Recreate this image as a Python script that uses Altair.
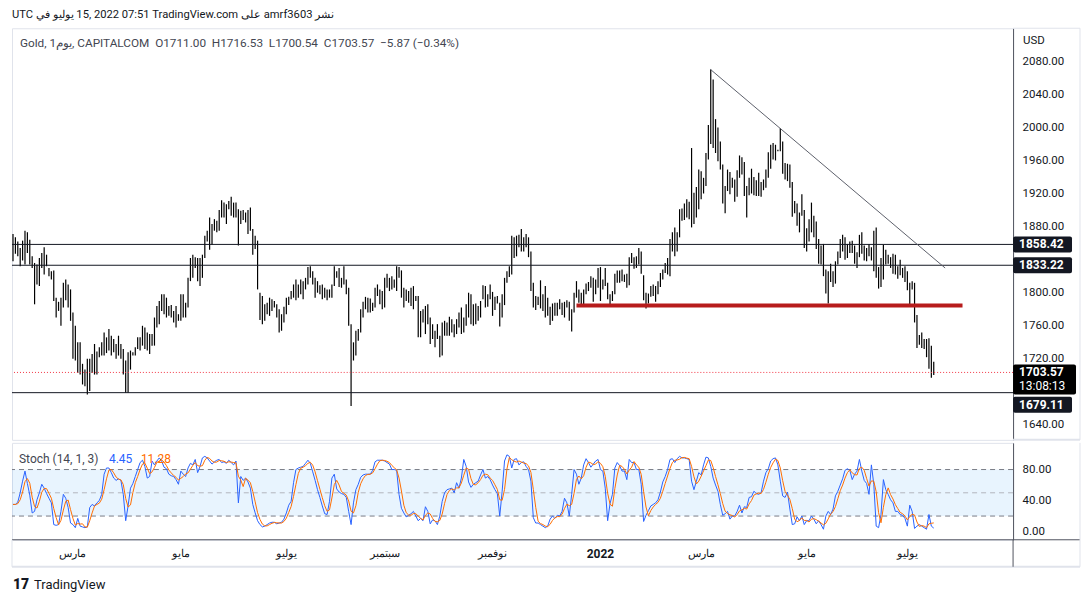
import altair as alt
import pandas as pd

# ---------------- data ----------------
bar_high = [
    1871, 1867, 1862, 1854, 1863, 1875, 1873, 1864, 1844, 1836,
    1834, 1842, 1848, 1855, 1846, 1830, 1826, 1827, 1794, 1789,
    1794, 1812, 1816, 1810, 1804, 1776, 1760, 1740, 1740, 1714,
    1707, 1720, 1720, 1726, 1738, 1729, 1734, 1740, 1752, 1746,
    1756, 1748, 1744, 1738, 1748, 1738, 1732, 1718, 1728, 1730,
    1728, 1734, 1746, 1746, 1760, 1758, 1752, 1750, 1750, 1770,
    1784, 1790, 1798, 1798, 1794, 1784, 1785, 1778, 1784, 1774,
    1798, 1798, 1788, 1818, 1842, 1846, 1843, 1842, 1842, 1846,
    1869, 1875, 1891, 1883, 1889, 1887, 1900, 1912, 1909, 1907,
    1911, 1916, 1909, 1909, 1901, 1899, 1900, 1897, 1900, 1903,
    1877, 1869, 1863, 1800, 1796, 1786, 1788, 1794, 1792, 1790,
    1786, 1780, 1774, 1783, 1794, 1795, 1802, 1810, 1816, 1810,
    1816, 1814, 1818, 1831, 1832, 1826, 1818, 1814, 1809, 1810,
    1806, 1804, 1804, 1810, 1832, 1826, 1830, 1818, 1832, 1816,
    1806, 1762, 1740, 1754, 1756, 1780, 1789, 1795, 1794, 1793,
    1788, 1806, 1810, 1804, 1802, 1818, 1823, 1818, 1820, 1816,
    1832, 1831, 1827, 1806, 1804, 1802, 1806, 1808, 1796, 1796,
    1778, 1780, 1784, 1786, 1770, 1762, 1754, 1762, 1748, 1764,
    1766, 1764, 1771, 1768, 1762, 1768, 1776, 1782, 1770, 1786,
    1800, 1798, 1786, 1787, 1784, 1790, 1809, 1808, 1798, 1810,
    1801, 1795, 1796, 1788, 1798, 1818, 1826, 1832, 1869, 1867,
    1869, 1870, 1877, 1867, 1871, 1867, 1850, 1812, 1796, 1795,
    1815, 1798, 1808, 1794, 1783, 1787, 1788, 1788, 1792, 1788,
    1789, 1791, 1789, 1780, 1800, 1814, 1804, 1800, 1804, 1811,
    1813, 1820, 1818, 1816, 1830, 1831, 1816, 1830, 1812, 1798,
    1802, 1823, 1827, 1827, 1828, 1822, 1823, 1843, 1848, 1843,
    1844, 1854, 1850, 1821, 1800, 1799, 1808, 1810, 1808, 1814,
    1824, 1828, 1836, 1842, 1865, 1873, 1879, 1873, 1901, 1902,
    1908, 1913, 1910, 1975, 1921, 1928, 1949, 1947, 1939, 1969,
    2003, 2070, 2058, 2010, 2000, 1983, 1955, 1929, 1949, 1946,
    1939, 1937, 1948, 1966, 1964, 1958, 1929, 1939, 1950, 1940,
    1936, 1945, 1934, 1937, 1949, 1970, 1979, 1981, 1979, 1973,
    1999, 1983, 1957, 1956, 1955, 1934, 1911, 1908, 1897, 1919,
    1900, 1878, 1889, 1909, 1893, 1886, 1865, 1857, 1859, 1828,
    1826, 1835, 1826, 1838, 1850, 1865, 1870, 1867, 1859, 1862,
    1863, 1857, 1849, 1870, 1873, 1857, 1854, 1859, 1855, 1875,
    1879, 1831, 1842, 1858, 1852, 1846, 1843, 1847, 1846, 1832,
    1840, 1830, 1832, 1826, 1812, 1814, 1812, 1773, 1749, 1752,
    1744, 1744, 1745, 1736, 1716.53,
]
bar_low = [
    1838, 1847, 1844, 1832, 1839, 1834, 1848, 1834, 1830, 1786,
    1810, 1808, 1830, 1822, 1832, 1820, 1816, 1790, 1770, 1778,
    1760, 1782, 1791, 1782, 1766, 1720, 1718, 1703, 1701, 1689,
    1687, 1677, 1681, 1703, 1701, 1701, 1722, 1724, 1724, 1727,
    1730, 1724, 1728, 1720, 1724, 1720, 1701, 1679, 1679, 1707,
    1724, 1724, 1732, 1730, 1736, 1732, 1730, 1726, 1736, 1736,
    1758, 1762, 1778, 1774, 1770, 1772, 1770, 1764, 1758, 1766,
    1766, 1770, 1770, 1782, 1814, 1818, 1830, 1814, 1808, 1818,
    1842, 1862, 1852, 1858, 1875, 1873, 1875, 1891, 1891, 1883,
    1901, 1893, 1891, 1891, 1857, 1883, 1888, 1885, 1871, 1875,
    1846, 1853, 1804, 1767, 1762, 1766, 1774, 1772, 1778, 1782,
    1770, 1752, 1754, 1764, 1774, 1785, 1792, 1794, 1791, 1794,
    1798, 1792, 1804, 1810, 1818, 1810, 1794, 1800, 1798, 1792,
    1794, 1791, 1794, 1794, 1808, 1818, 1807, 1806, 1810, 1798,
    1760, 1663, 1718, 1724, 1742, 1752, 1770, 1780, 1776, 1776,
    1778, 1782, 1796, 1786, 1780, 1782, 1806, 1802, 1804, 1806,
    1802, 1818, 1794, 1782, 1790, 1788, 1784, 1780, 1790, 1746,
    1746, 1764, 1750, 1762, 1738, 1744, 1734, 1744, 1722, 1724,
    1748, 1748, 1748, 1752, 1746, 1750, 1758, 1750, 1752, 1760,
    1770, 1762, 1760, 1762, 1766, 1770, 1792, 1782, 1783, 1792,
    1772, 1779, 1787, 1759, 1770, 1785, 1812, 1819, 1822, 1842,
    1844, 1855, 1850, 1850, 1855, 1843, 1802, 1782, 1779, 1785,
    1781, 1778, 1770, 1772, 1761, 1766, 1772, 1772, 1780, 1773,
    1770, 1782, 1766, 1753, 1776, 1794, 1788, 1784, 1785, 1798,
    1802, 1806, 1789, 1798, 1806, 1790, 1804, 1808, 1792, 1783,
    1790, 1798, 1812, 1812, 1814, 1813, 1806, 1809, 1836, 1829,
    1830, 1834, 1823, 1791, 1781, 1787, 1795, 1796, 1789, 1798,
    1807, 1816, 1824, 1822, 1820, 1850, 1844, 1850, 1867, 1887,
    1888, 1891, 1889, 1879, 1883, 1891, 1901, 1913, 1920, 1929,
    1961, 1980, 1975, 1969, 1959, 1949, 1908, 1896, 1923, 1919,
    1927, 1910, 1916, 1939, 1943, 1917, 1891, 1918, 1920, 1918,
    1917, 1917, 1916, 1924, 1927, 1939, 1950, 1961, 1960, 1971,
    1971, 1944, 1937, 1935, 1927, 1892, 1896, 1881, 1873, 1893,
    1854, 1850, 1862, 1873, 1867, 1853, 1835, 1834, 1820, 1799,
    1787, 1813, 1807, 1811, 1834, 1842, 1850, 1840, 1842, 1848,
    1848, 1835, 1830, 1843, 1847, 1839, 1838, 1844, 1839, 1826,
    1818, 1805, 1807, 1816, 1834, 1835, 1830, 1823, 1822, 1817,
    1821, 1818, 1813, 1803, 1784, 1804, 1764, 1733, 1737, 1733,
    1732, 1722, 1708, 1697, 1700.54,
]
stoch_k = [
    35, 35, 38, 50, 65, 78, 62, 47, 24, 26,
    41, 50, 61, 56, 49, 43, 37, 9, 8, 9,
    26, 48, 43, 31, 11, 9, 5, 17, 7, 6,
    5, 6, 31, 35, 33, 37, 40, 48, 74, 82,
    82, 76, 69, 66, 68, 66, 48, 14, 33, 56,
    62, 71, 80, 89, 92, 84, 69, 71, 91, 86,
    91, 95, 91, 83, 81, 74, 72, 71, 67, 61,
    78, 74, 71, 82, 88, 86, 93, 76, 84, 95,
    97, 95, 91, 87, 90, 92, 93, 89, 90, 88,
    92, 89, 86, 91, 37, 71, 66, 69, 64, 56,
    35, 24, 14, 9, 6, 7, 9, 11, 12, 12,
    10, 11, 12, 16, 24, 34, 39, 63, 80, 82,
    83, 84, 88, 92, 88, 77, 66, 54, 44, 33,
    23, 22, 39, 69, 74, 55, 51, 49, 48, 44,
    26, 9, 37, 54, 61, 70, 73, 74, 74, 74,
    79, 90, 92, 92, 92, 91, 89, 87, 80, 80,
    79, 48, 30, 24, 19, 21, 23, 26, 20, 14,
    17, 14, 32, 26, 10, 15, 14, 9, 20, 39,
    50, 54, 55, 56, 50, 63, 56, 69, 93, 84,
    64, 57, 61, 63, 65, 73, 80, 69, 71, 67,
    60, 54, 49, 20, 52, 91, 99, 97, 82, 93,
    94, 86, 89, 90, 84, 80, 65, 18, 11, 11,
    9, 7, 5, 7, 16, 20, 17, 21, 20, 26,
    43, 37, 20, 48, 80, 74, 61, 69, 86, 94,
    89, 83, 87, 91, 93, 80, 78, 56, 14, 36,
    48, 82, 89, 85, 78, 78, 67, 93, 89, 89,
    80, 80, 61, 13, 21, 27, 33, 35, 37, 41,
    51, 64, 71, 80, 93, 94, 89, 94, 97, 95,
    95, 94, 93, 65, 54, 65, 76, 73, 86, 96,
    95, 84, 69, 60, 52, 35, 21, 23, 26, 16,
    20, 20, 26, 34, 24, 32, 31, 44, 45, 52,
    49, 48, 50, 65, 76, 81, 91, 94, 95, 86,
    65, 46, 44, 51, 29, 9, 10, 19, 14, 20,
    9, 14, 14, 20, 16, 10, 14, 9, 3, 20,
    26, 22, 29, 46, 52, 60, 68, 79, 81, 79,
    67, 74, 78, 93, 78, 66, 62, 48, 86, 61,
    7, 5, 22, 67, 54, 48, 41, 37, 26, 26,
    22, 21, 17, 7, 34, 26, 4, 7, 9, 7,
    5, 3, 22, 7, 4.45,
]

month_pos = [25, 70, 114, 155, 200, 245, 287, 331, 373]
month_labels = ["مارس", "مايو", "يوليو", "سبتمبر", "نوفمبر", "2022", "مارس", "مايو", "يوليو"]
month_bold = [False, False, False, False, False, True, False, False, False]

level_prices = [1858.42, 1833.22, 1679.11]
level_texts = ["1858.42", "1833.22", "1679.11"]
support_price = 1784.5
support_from = 235
support_to = 396
trend_idx = [290.8, 388.75]
trend_price = [2070.3, 1829.9]
last_close = 1703.57
last_close_text = "1703.57"
countdown_text = "13:08:13"
price_ticks = [1640, 1720, 1760, 1800, 1880, 1920, 1960, 2000, 2040, 2080]
stoch_ticks = [0, 40, 80]
stoch_levels = [20, 50, 80]
stoch_level_colors = ["#787b86", "#b2b5be", "#787b86"]

header_text = "UTC في\u200e يوليو\u200e 15, 2022 07:51 TradingView.com على\u200e amrf3603 نشر\u200e"
legend_text = ("Gold, 1يوم\u200e, CAPITALCOM\u00a0\u00a0O1711.00\u00a0\u00a0H1716.53\u00a0\u00a0"
               "L1700.54\u00a0\u00a0C1703.57\u00a0\u00a0\u22125.87 (\u22120.34%)")
stoch_title = "Stoch (14, 1, 3)"
stoch_k_text = "4.45"
stoch_d_text = "11.28"

# ---------------- layout ----------------
W, H1, H2 = 1002, 412, 97
AX = 67          # width of the price-axis strip
FONT = "Roboto"
TXT = "#131722"
FRAME = "#e0e3eb"
AXLINE = "#50535e"

n = len(bar_high)
bars = pd.DataFrame({"i": list(range(n)), "hi": bar_high, "lo": bar_low})
stoch = pd.DataFrame({"i": list(range(len(stoch_k))), "k": stoch_k})

xs = alt.Scale(domain=[-0.417, 417.08], nice=False, zero=False)
ys = alt.Scale(domain=[1622.0, 2119.9], nice=False, zero=False)
ss = alt.Scale(domain=[-10.6, 114.4], nice=False, zero=False)

price_axis = alt.Axis(orient="right", values=price_ticks, format=".2f", ticks=False, grid=False,
                      domainColor=AXLINE, labelColor=TXT, labelFont=FONT, labelFontSize=11.5,
                      labelPadding=9, title=None)


def one(v=0):
    return pd.DataFrame({"d": [v]})


bars_layer = alt.Chart(bars).mark_rule(color="#000000", strokeWidth=1.2).encode(
    x=alt.X("i:Q", scale=xs, axis=None),
    y=alt.Y("lo:Q", scale=ys, axis=price_axis),
    y2="hi:Q",
)

lv = pd.DataFrame({"p": level_prices, "t": level_texts})
level_layer = alt.Chart(lv).mark_rule(color=TXT, strokeWidth=1).encode(y=alt.Y("p:Q", scale=ys))

sup = pd.DataFrame({"a": [support_from], "b": [support_to], "p": [support_price]})
support_layer = alt.Chart(sup).mark_rule(color="#b71c1c", strokeWidth=4).encode(
    x=alt.X("a:Q", scale=xs), x2="b:Q", y=alt.Y("p:Q", scale=ys))

tr = pd.DataFrame({"i": trend_idx, "p": trend_price})
trend_layer = alt.Chart(tr).mark_line(color="#5d606b", strokeWidth=1).encode(
    x=alt.X("i:Q", scale=xs), y=alt.Y("p:Q", scale=ys))

lc = pd.DataFrame({"p": [last_close], "t": [last_close_text], "c": [countdown_text]})
last_layer = alt.Chart(lc).mark_rule(color="#f23645", strokeWidth=1, strokeDash=[1, 2]).encode(
    y=alt.Y("p:Q", scale=ys))

# price tags on the axis
tags_top = lv.iloc[:2]
tags_low = lv.iloc[2:]
tag_box = alt.Chart(tags_top).mark_rect(color=TXT, yOffset=-8, y2Offset=8, cornerRadius=2).encode(
    x=alt.value(W), x2=alt.value(W + 59), y=alt.Y("p:Q", scale=ys), y2="p:Q")
tag_txt = alt.Chart(tags_top).mark_text(align="left", baseline="middle", color="white", font=FONT,
                                        fontSize=12, fontWeight="bold").encode(
    x=alt.value(W + 6), y=alt.Y("p:Q", scale=ys), text="t:N")
low_box = alt.Chart(tags_low).mark_rect(color=TXT, yOffset=4, y2Offset=20, cornerRadius=2).encode(
    x=alt.value(W), x2=alt.value(W + 59), y=alt.Y("p:Q", scale=ys), y2="p:Q")
low_txt = alt.Chart(tags_low).mark_text(align="left", baseline="middle", color="white", font=FONT,
                                        fontSize=12, fontWeight="bold", dy=12).encode(
    x=alt.value(W + 6), y=alt.Y("p:Q", scale=ys), text="t:N")
lc_box = alt.Chart(lc).mark_rect(color="#000000", yOffset=-8, y2Offset=22, cornerRadius=2).encode(
    x=alt.value(W), x2=alt.value(W + 63), y=alt.Y("p:Q", scale=ys), y2="p:Q")
lc_txt = alt.Chart(lc).mark_text(align="left", baseline="middle", color="white", font=FONT,
                                 fontSize=12, fontWeight="bold").encode(
    x=alt.value(W + 6), y=alt.Y("p:Q", scale=ys), text="t:N")
lc_cd = alt.Chart(lc).mark_text(align="left", baseline="middle", color="white", font=FONT,
                                fontSize=12, dy=14).encode(
    x=alt.value(W + 6), y=alt.Y("p:Q", scale=ys), text="c:N")

hdr = alt.Chart(pd.DataFrame({"t": [header_text]})).mark_text(
    align="left", baseline="middle", font=FONT, fontSize=11.2, color=TXT).encode(
    x=alt.value(0), y=alt.value(-13), text="t:N")
leg = alt.Chart(pd.DataFrame({"t": [legend_text]})).mark_text(
    align="left", baseline="middle", font=FONT, fontSize=11.8, color="#434651").encode(
    x=alt.value(8), y=alt.value(15), text="t:N")
usd = alt.Chart(pd.DataFrame({"t": ["USD"]})).mark_text(
    align="left", baseline="middle", font=FONT, fontSize=11.5, color=TXT).encode(
    x=alt.value(W + 10), y=alt.value(13), text="t:N")

frame_p = alt.Chart(one()).mark_rule(color=FRAME, strokeWidth=1).encode(
    x=alt.value(W + AX), y=alt.value(0), y2=alt.value(H1))
frame_pt = alt.Chart(one()).mark_rule(color=FRAME, strokeWidth=1).encode(
    x=alt.value(W), x2=alt.value(W + AX), y=alt.value(0))
frame_pb = alt.Chart(one()).mark_rule(color=FRAME, strokeWidth=2).encode(
    x=alt.value(W), x2=alt.value(W + AX), y=alt.value(H1))

price = alt.layer(
    bars_layer, level_layer, support_layer, trend_layer, last_layer,
    tag_box, tag_txt, lc_box, lc_txt, lc_cd, low_box, low_txt, hdr, leg, usd,
    frame_p, frame_pt, frame_pb,
).properties(width=W, height=H1)

# ---------------- stochastic pane ----------------
stoch_axis = alt.Axis(orient="right", values=stoch_ticks, format=".2f", ticks=False, grid=False,
                      domainColor=AXLINE, labelColor=TXT, labelFont=FONT, labelFontSize=11.5,
                      labelPadding=9, title=None)

band = alt.Chart(pd.DataFrame({"a": [stoch_levels[0]], "b": [stoch_levels[2]]})).mark_rect(
    color="#2196f3", opacity=0.1).encode(
    x=alt.value(0), x2=alt.value(W), y=alt.Y("a:Q", scale=ss, axis=stoch_axis), y2="b:Q")
lvl = alt.Chart(pd.DataFrame({"v": stoch_levels, "c": stoch_level_colors})).mark_rule(
    strokeWidth=1, strokeDash=[5, 4]).encode(
    y=alt.Y("v:Q", scale=ss), color=alt.Color("c:N", scale=None))
k_line = alt.Chart(stoch).mark_line(color="#2962ff", strokeWidth=1).encode(
    x=alt.X("i:Q", scale=xs, axis=None), y=alt.Y("k:Q", scale=ss))
d_line = alt.Chart(stoch).transform_window(
    d="mean(k)", frame=[-2, 0], sort=[alt.SortField("i")]).mark_line(
    color="#ff6d00", strokeWidth=1).encode(
    x=alt.X("i:Q", scale=xs), y=alt.Y("d:Q", scale=ss))

st_title = alt.Chart(pd.DataFrame({"t": [stoch_title]})).mark_text(
    align="left", baseline="middle", font=FONT, fontSize=12, color="#434651").encode(
    x=alt.value(7), y=alt.value(16), text="t:N")
st_k = alt.Chart(pd.DataFrame({"t": [stoch_k_text]})).mark_text(
    align="left", baseline="middle", font=FONT, fontSize=12, color="#2962ff").encode(
    x=alt.value(97), y=alt.value(16), text="t:N")
st_d = alt.Chart(pd.DataFrame({"t": [stoch_d_text]})).mark_text(
    align="left", baseline="middle", font=FONT, fontSize=12, color="#ff6d00").encode(
    x=alt.value(129), y=alt.value(16), text="t:N")

months = pd.DataFrame({"i": month_pos, "t": month_labels, "b": month_bold})
mlab = alt.Chart(months).transform_filter("!datum.b").mark_text(
    baseline="middle", font=FONT, fontSize=11.5, color=TXT).encode(
    x=alt.X("i:Q", scale=xs), y=alt.value(H2 + 14), text="t:N")
mlab_b = alt.Chart(months).transform_filter("datum.b").mark_text(
    baseline="middle", font=FONT, fontSize=12, fontWeight="bold", color=TXT).encode(
    x=alt.X("i:Q", scale=xs), y=alt.value(H2 + 14), text="t:N")

bottom_line = alt.Chart(one()).mark_rule(color=AXLINE, strokeWidth=1).encode(
    x=alt.value(0), x2=alt.value(W + AX), y=alt.value(H2))
frame_s = alt.Chart(one()).mark_rule(color=FRAME, strokeWidth=1).encode(
    x=alt.value(W + AX), y=alt.value(0), y2=alt.value(H2 + 27))
frame_sb = alt.Chart(one()).mark_rule(color=FRAME, strokeWidth=2).encode(
    x=alt.value(0), x2=alt.value(W + AX), y=alt.value(H2 + 27))
frame_sl = alt.Chart(one()).mark_rule(color=FRAME, strokeWidth=1).encode(
    x=alt.value(0), y=alt.value(H2), y2=alt.value(H2 + 27))
frame_sx = alt.Chart(one()).mark_rule(color=AXLINE, strokeWidth=1).encode(
    x=alt.value(W), y=alt.value(H2), y2=alt.value(H2 + 27))

logo = alt.Chart(pd.DataFrame({"t": ["17"]})).mark_text(
    align="left", baseline="middle", font=FONT, fontSize=14, fontWeight=900, color="#131722").encode(
    x=alt.value(1), y=alt.value(H2 + 45), text="t:N")
brand = alt.Chart(pd.DataFrame({"t": ["TradingView"]})).mark_text(
    align="left", baseline="middle", font=FONT, fontSize=13, color="#131722").encode(
    x=alt.value(22), y=alt.value(H2 + 45), text="t:N")

stoch_pane = alt.layer(
    band, lvl, k_line, d_line, st_title, st_k, st_d, mlab, mlab_b, bottom_line,
    frame_s, frame_sb, frame_sl, frame_sx, logo, brand,
).properties(width=W, height=H2)

chart = alt.vconcat(price, stoch_pane, spacing=0).properties(
    padding={"left": 2, "top": 0, "right": 0, "bottom": 0},
    background="white",
).configure_view(stroke=FRAME, strokeWidth=1)

chart.save("out.html", embed_options={"renderer": "svg", "actions": False})
